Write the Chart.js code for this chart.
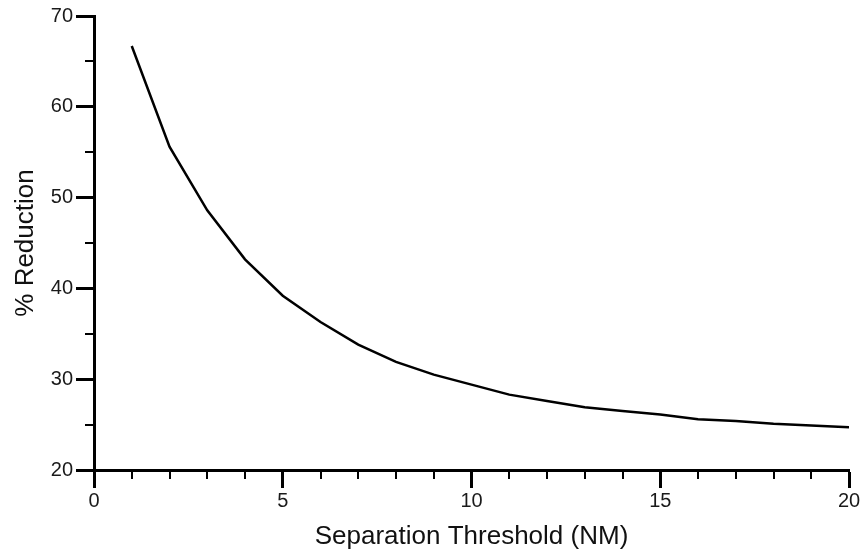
<!DOCTYPE html>
<html lang="en">
<head>
    <meta charset="UTF-8">
    <title>% Reduction vs Separation Threshold</title>
    <script src="https://cdn.jsdelivr.net/npm/chart.js"></script>
    <style>
        html, body { margin: 0; padding: 0; background: #fff; }
        #wrap { width: 863px; height: 554px; }
    </style>
</head>
<body>
    <div id="wrap">
        <canvas id="grafico" width="863" height="554"></canvas>
    </div>

    <script>
        // dados
        const separacao = [1, 2, 3, 4, 5, 6, 7, 8, 9, 10, 11, 12, 13, 14, 15, 16, 17, 18, 19, 20];
        const reducao = [66.7, 55.6, 48.6, 43.2, 39.2, 36.3, 33.8, 31.9, 30.5, 29.4,
                         28.3, 27.6, 26.9, 26.5, 26.1, 25.6, 25.4, 25.1, 24.9, 24.7];
        const xTicks = [0, 5, 10, 15, 20];
        const yTicks = [20, 30, 40, 50, 60, 70];
        const xMinor = [1, 2, 3, 4, 6, 7, 8, 9, 11, 12, 13, 14, 16, 17, 18, 19];
        const yMinor = [25, 35, 45, 55, 65];

        const fonte = "'Liberation Sans', Arial, sans-serif";

        // marcas menores dos eixos (o Chart.js não tem minor ticks)
        const minorTicks = {
            id: 'minorTicks',
            afterDraw(chart) {
                const ctx = chart.ctx;
                const x = chart.scales.x, y = chart.scales.y;
                ctx.save();
                ctx.strokeStyle = '#000';
                ctx.lineWidth = 2;
                ctx.beginPath();
                xMinor.forEach(v => {
                    const px = Math.round(x.getPixelForValue(v));
                    ctx.moveTo(px, y.bottom);
                    ctx.lineTo(px, y.bottom + 9);
                });
                yMinor.forEach(v => {
                    const py = Math.round(y.getPixelForValue(v));
                    ctx.moveTo(x.left, py);
                    ctx.lineTo(x.left - 9, py);
                });
                ctx.stroke();
                ctx.restore();
            }
        };

        const config = {
            type: 'line',
            data: {
                datasets: [{
                    label: '% Reduction',
                    data: separacao.map((s, i) => ({ x: s, y: reducao[i] })),
                    borderColor: '#000',
                    borderWidth: 2.5,
                    pointRadius: 0,
                    fill: false,
                    tension: 0
                }]
            },
            options: {
                responsive: false,
                animation: false,
                layout: { padding: { top: 16, right: 14, left: 10, bottom: 2 } },
                plugins: {
                    legend: { display: false },
                    tooltip: { enabled: false }
                },
                scales: {
                    x: {
                        type: 'linear',
                        min: 0,
                        max: 20,
                        afterBuildTicks: s => { s.ticks = xTicks.map(v => ({ value: v })); },
                        grid: { drawOnChartArea: false, tickLength: 18, tickWidth: 3, tickColor: '#000' },
                        border: { color: '#000', width: 3 },
                        ticks: { color: '#1a1a1a', font: { family: fonte, size: 20 }, padding: 1, maxRotation: 0 },
                        title: {
                            display: true,
                            text: 'Separation Threshold (NM)',
                            color: '#111',
                            font: { family: fonte, size: 26 },
                            padding: { top: 0, bottom: 0 }
                        },
                        afterFit: s => { s.height = 82; }
                    },
                    y: {
                        min: 20,
                        max: 70,
                        afterBuildTicks: s => { s.ticks = yTicks.map(v => ({ value: v })); },
                        grid: { drawOnChartArea: false, tickLength: 18, tickWidth: 3, tickColor: '#000' },
                        border: { color: '#000', width: 3 },
                        ticks: { color: '#1a1a1a', font: { family: fonte, size: 20 }, padding: 3 },
                        title: {
                            display: true,
                            text: '% Reduction',
                            color: '#111',
                            font: { family: fonte, size: 26 },
                            padding: { top: 0, bottom: 0 }
                        },
                        afterFit: s => { s.width = 84; }
                    }
                }
            },
            plugins: [minorTicks]
        };

        new Chart(document.getElementById('grafico').getContext('2d'), config);
    </script>
</body>
</html>
